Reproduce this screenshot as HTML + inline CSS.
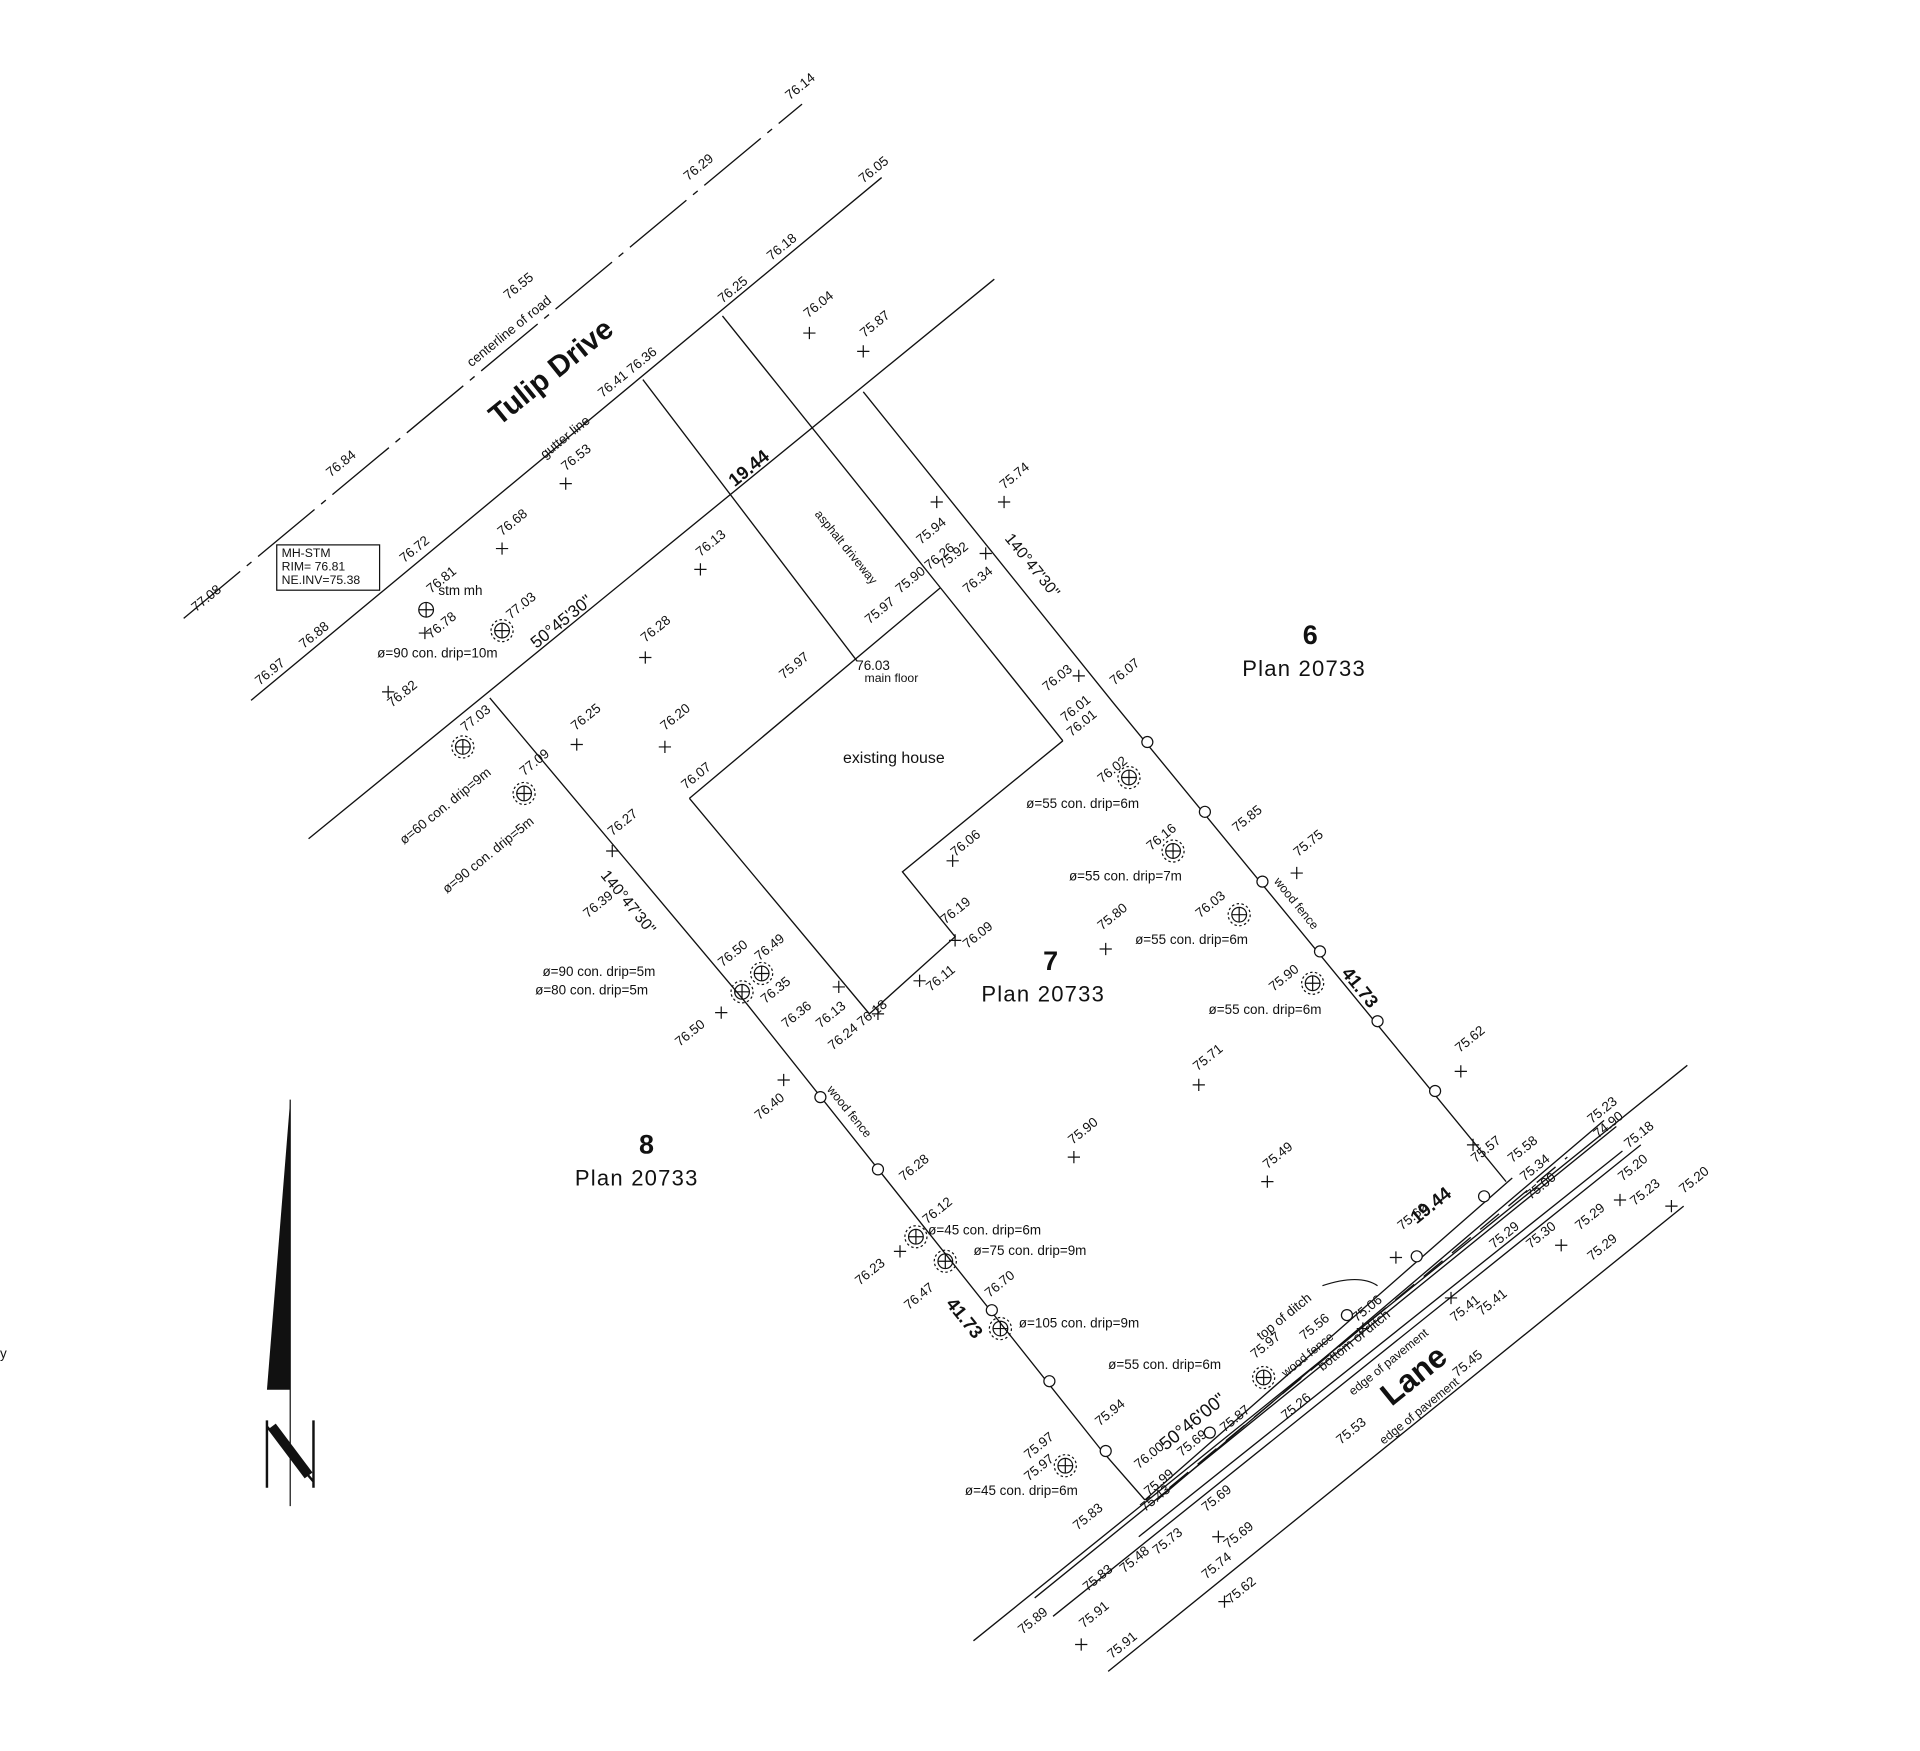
<!DOCTYPE html>
<html><head><meta charset="utf-8"><style>
html,body{margin:0;padding:0;background:#fff}
svg{display:block}
text{font-family:"Liberation Sans",sans-serif;fill:#111}
</style></head><body>
<svg width="1920" height="1751" viewBox="0 0 1568 1430" xmlns="http://www.w3.org/2000/svg">
<g stroke="#111" stroke-width="1.1" fill="none">
<line x1="150" y1="505" x2="655" y2="85" stroke-dasharray="60,7,5,7"/>
<line x1="205" y1="572" x2="720" y2="145"/>
<line x1="252" y1="685" x2="812" y2="228"/>
<polyline points="400,570 610,820 900,1185 935,1225"/>
<polyline points="705,320 910,575 1230,965"/>
<line x1="935" y1="1225" x2="1235" y2="962"/>
<line x1="525" y1="310" x2="700" y2="540"/>
<line x1="590" y1="258" x2="768" y2="480"/>
<line x1="768" y1="480" x2="868" y2="605"/>
<polyline points="563,652 768,480"/>
<polyline points="868,605 737,712 780,765 710,828 563,652"/>
<line x1="795" y1="1340" x2="1378" y2="870"/>
<line x1="905" y1="1365" x2="1375" y2="985"/>
<line x1="845" y1="1305" x2="1320" y2="920"/>
<line x1="860" y1="1320" x2="1340" y2="935"/>
<line x1="930" y1="1255" x2="1325" y2="940"/>
<line x1="945" y1="1225" x2="1310" y2="915"/>
<line x1="955" y1="1215" x2="1280" y2="945" stroke-dasharray="20,10"/>
</g>
<g stroke="#111" fill="#fff" stroke-width="1">
<circle cx="937" cy="606" r="4.5"/><circle cx="984" cy="663" r="4.5"/><circle cx="1031" cy="720" r="4.5"/><circle cx="1078" cy="777" r="4.5"/><circle cx="1125" cy="834" r="4.5"/><circle cx="1172" cy="891" r="4.5"/><circle cx="1212" cy="977" r="4.5"/><circle cx="1157" cy="1026" r="4.5"/><circle cx="1100" cy="1074" r="4.5"/><circle cx="988" cy="1170" r="4.5"/>
<circle cx="670" cy="896" r="4.5"/><circle cx="717" cy="955" r="4.5"/><circle cx="810" cy="1070" r="4.5"/><circle cx="857" cy="1128" r="4.5"/><circle cx="903" cy="1185" r="4.5"/>
</g>
<g stroke="#111" fill="none" stroke-width="1">
<g transform="translate(348,498)"><circle r="6"/><path d="M-6 0H6M0-6V6"/></g>
<g transform="translate(410,515)"><circle r="6"/><circle r="9" stroke-dasharray="2,2"/><path d="M-6 0H6M0-6V6"/></g>
<g transform="translate(378,610)"><circle r="6"/><circle r="9" stroke-dasharray="2,2"/><path d="M-6 0H6M0-6V6"/></g>
<g transform="translate(428,648)"><circle r="6"/><circle r="9" stroke-dasharray="2,2"/><path d="M-6 0H6M0-6V6"/></g>
<g transform="translate(922,635)"><circle r="6"/><circle r="9" stroke-dasharray="2,2"/><path d="M-6 0H6M0-6V6"/></g>
<g transform="translate(958,695)"><circle r="6"/><circle r="9" stroke-dasharray="2,2"/><path d="M-6 0H6M0-6V6"/></g>
<g transform="translate(1012,747)"><circle r="6"/><circle r="9" stroke-dasharray="2,2"/><path d="M-6 0H6M0-6V6"/></g>
<g transform="translate(1072,803)"><circle r="6"/><circle r="9" stroke-dasharray="2,2"/><path d="M-6 0H6M0-6V6"/></g>
<g transform="translate(606,810)"><circle r="6"/><circle r="9" stroke-dasharray="2,2"/><path d="M-6 0H6M0-6V6"/></g>
<g transform="translate(622,795)"><circle r="6"/><circle r="9" stroke-dasharray="2,2"/><path d="M-6 0H6M0-6V6"/></g>
<g transform="translate(748,1010)"><circle r="6"/><circle r="9" stroke-dasharray="2,2"/><path d="M-6 0H6M0-6V6"/></g>
<g transform="translate(772,1030)"><circle r="6"/><circle r="9" stroke-dasharray="2,2"/><path d="M-6 0H6M0-6V6"/></g>
<g transform="translate(817,1085)"><circle r="6"/><circle r="9" stroke-dasharray="2,2"/><path d="M-6 0H6M0-6V6"/></g>
<g transform="translate(870,1197)"><circle r="6"/><circle r="9" stroke-dasharray="2,2"/><path d="M-6 0H6M0-6V6"/></g>
<g transform="translate(1032,1125)"><circle r="6"/><circle r="9" stroke-dasharray="2,2"/><path d="M-6 0H6M0-6V6"/></g>
</g>
<g stroke="#111" stroke-width="1">
<path d="M656 272h10M661 267v10 M700 287h10M705 282v10 M457 395h10M462 390v10 M405 448h10M410 443v10 M567 465h10M572 460v10 M522 537h10M527 532v10 M466 608h10M471 603v10 M538 610h10M543 605v10 M312 565h10M317 560v10 M342 517h10M347 512v10 M495 695h10M500 690v10 M815 410h10M820 405v10 M760 410h10M765 405v10 M800 452h10M805 447v10 M876 552h10M881 547v10 M773 703h10M778 698v10 M775 768h10M780 763v10 M746 801h10M751 796v10 M898 775h10M903 770v10 M1054 713h10M1059 708v10 M974 886h10M979 881v10 M872 945h10M877 940v10 M1030 965h10M1035 960v10 M1188 875h10M1193 870v10 M1198 935h10M1203 930v10 M584 827h10M589 822v10 M635 882h10M640 877v10 M730 1022h10M735 1017v10 M1135 1027h10M1140 1022v10 M1270 1017h10M1275 1012v10 M1318 980h10M1323 975v10 M990 1255h10M995 1250v10 M995 1308h10M1000 1303v10 M878 1343h10M883 1338v10 M1108 1085h10M1113 1080v10 M1180 1060h10M1185 1055v10 M680 806h10M685 801v10 M712 828h10M717 823v10 M1360 985h10M1365 980v10"/>
</g>
<rect x="226" y="445" width="84" height="37" fill="#fff" stroke="#111"/>
<text x="230" y="455" font-size="10">MH-STM</text>
<text x="230" y="466" font-size="10">RIM=  76.81</text>
<text x="230" y="477" font-size="10">NE.INV=75.38</text>
<path d="M237 898 L218 1135 L237 1135 Z" fill="#111"/>
<line x1="237" y1="898" x2="237" y2="1230" stroke="#111"/>
<path d="M218 1160v55M256 1160v55M218 1165 L256 1210" stroke="#111" stroke-width="2" fill="none"/>
<path d="M222 1165 L252 1205" stroke="#111" stroke-width="8"/>
<text x="0" y="1109" font-size="11">y</text>
<text x="1070" y="526" font-size="22" font-weight="bold" text-anchor="middle">6</text>
<text x="1065" y="552" font-size="18" text-anchor="middle" letter-spacing="1">Plan  20733</text>
<text x="858" y="792" font-size="22" font-weight="bold" text-anchor="middle">7</text>
<text x="852" y="818" font-size="18" text-anchor="middle" letter-spacing="1">Plan  20733</text>
<text x="528" y="942" font-size="22" font-weight="bold" text-anchor="middle">8</text>
<text x="520" y="968" font-size="18" text-anchor="middle" letter-spacing="1">Plan  20733</text>
<text x="730" y="623" font-size="13" text-anchor="middle">existing house</text>
<text x="728" y="557" font-size="10" text-anchor="middle">main floor</text>
<text x="713" y="547" font-size="11" text-anchor="middle">76.03</text>
<text x="455" y="310" font-size="24" font-weight="bold" transform="rotate(-39 455 310)" text-anchor="middle">Tulip Drive</text>
<text x="1160" y="1130" font-size="26" font-weight="bold" transform="rotate(-39 1160 1130)" text-anchor="middle">Lane</text>
<g font-size="11">
<text transform="translate(160,500) rotate(-39)">77.08</text>
<text transform="translate(270,390) rotate(-39)">76.84</text>
<text transform="translate(385,300) rotate(-39)">centerline of road</text>
<text transform="translate(415,245) rotate(-39)">76.55</text>
<text transform="translate(562,148) rotate(-39)">76.29</text>
<text transform="translate(645,82) rotate(-39)">76.14</text>
<text transform="translate(212,560) rotate(-39)">76.97</text>
<text transform="translate(248,530) rotate(-39)">76.88</text>
<text transform="translate(330,460) rotate(-39)">76.72</text>
<text transform="translate(445,375) rotate(-39)">gutter line</text>
<text transform="translate(492,325) rotate(-39)">76.41 76.36</text>
<text transform="translate(590,248) rotate(-39)">76.25</text>
<text transform="translate(630,213) rotate(-39)">76.18</text>
<text transform="translate(705,150) rotate(-39)">76.05</text>
<text transform="translate(660,260) rotate(-39)">76.04</text>
<text transform="translate(706,276) rotate(-39)">75.87</text>
<text transform="translate(462,385) rotate(-39)">76.53</text>
<text transform="translate(410,438) rotate(-39)">76.68</text>
<text transform="translate(352,485) rotate(-39)">76.81</text>
<text transform="translate(358,486)">stm mh</text>
<text transform="translate(352,522) rotate(-39)">76.78</text>
<text transform="translate(417,506) rotate(-39)">77.03</text>
<text transform="translate(320,578) rotate(-39)">76.82</text>
<text x="308" y="537">ø=90 con. drip=10m</text>
<text transform="translate(600,398) rotate(-39)" font-size="15" font-weight="bold">19.44</text>
<text transform="translate(438,530) rotate(-39)" font-size="14">50°45'30"</text>
<text transform="translate(665,420) rotate(51)" font-size="10">asphalt driveway</text>
<text transform="translate(572,455) rotate(-39)">76.13</text>
<text transform="translate(527,525) rotate(-39)">76.28</text>
<text transform="translate(470,597) rotate(-39)">76.25</text>
<text transform="translate(543,597) rotate(-39)">76.20</text>
<text transform="translate(380,598) rotate(-39)">77.03</text>
<text transform="translate(428,634) rotate(-39)">77.09</text>
<text transform="translate(330,690) rotate(-39)">ø=60 con. drip=9m</text>
<text transform="translate(365,730) rotate(-39)">ø=90 con. drip=5m</text>
<text transform="translate(500,683) rotate(-39)">76.27</text>
<text transform="translate(490,715) rotate(51)" font-size="13">140°47'30"</text>
<text transform="translate(480,750) rotate(-39)">76.39</text>
<text transform="translate(560,645) rotate(-39)">76.07</text>
<text transform="translate(820,400) rotate(-39)">75.74</text>
<text transform="translate(752,445) rotate(-39)">75.94</text>
<text transform="translate(770,465) rotate(-39)">75.92</text>
<text transform="translate(735,485) rotate(-39)">75.90 76.26</text>
<text transform="translate(710,510) rotate(-39)">75.97</text>
<text transform="translate(790,485) rotate(-39)">76.34</text>
<text transform="translate(820,440) rotate(51)" font-size="13">140°47'30"</text>
<text transform="translate(640,555) rotate(-39)">75.97</text>
<text transform="translate(855,565) rotate(-39)">76.03</text>
<text transform="translate(910,560) rotate(-39)">76.07</text>
<text transform="translate(870,590) rotate(-39)">76.01</text>
<text transform="translate(875,602) rotate(-39)">76.01</text>
<text transform="translate(900,640) rotate(-39)">76.02</text>
<text x="838" y="660">ø=55 con. drip=6m</text>
<text transform="translate(940,695) rotate(-39)">76.16</text>
<text x="873" y="719">ø=55 con. drip=7m</text>
<text transform="translate(1010,680) rotate(-39)">75.85</text>
<text transform="translate(1060,700) rotate(-39)">75.75</text>
<text transform="translate(980,750) rotate(-39)">76.03</text>
<text x="927" y="771">ø=55 con. drip=6m</text>
<text transform="translate(1040,720) rotate(51)" font-size="10">wood fence</text>
<text transform="translate(1095,795) rotate(51)" font-size="15" font-weight="bold">41.73</text>
<text transform="translate(1040,810) rotate(-39)">75.90</text>
<text x="987" y="828">ø=55 con. drip=6m</text>
<text transform="translate(1192,860) rotate(-39)">75.62</text>
<text transform="translate(900,760) rotate(-39)">75.80</text>
<text transform="translate(978,875) rotate(-39)">75.71</text>
<text transform="translate(876,935) rotate(-39)">75.90</text>
<text transform="translate(1035,955) rotate(-39)">75.49</text>
<text transform="translate(780,700) rotate(-39)">76.06</text>
<text transform="translate(772,755) rotate(-39)">76.19</text>
<text transform="translate(790,775) rotate(-39)">76.09</text>
<text transform="translate(760,810) rotate(-39)">76.11</text>
<text transform="translate(590,790) rotate(-39)">76.50</text>
<text transform="translate(620,785) rotate(-39)">76.49</text>
<text transform="translate(625,820) rotate(-39)">76.35</text>
<text transform="translate(642,840) rotate(-39)">76.36</text>
<text transform="translate(670,840) rotate(-39)">76.13</text>
<text transform="translate(680,858) rotate(-39)">76.24 76.18</text>
<text x="443" y="797">ø=90 con. drip=5m</text>
<text x="437" y="812">ø=80 con. drip=5m</text>
<text transform="translate(555,855) rotate(-39)">76.50</text>
<text transform="translate(620,915) rotate(-39)">76.40</text>
<text transform="translate(675,890) rotate(51)" font-size="10">wood fence</text>
<text transform="translate(738,965) rotate(-39)">76.28</text>
<text transform="translate(757,1000) rotate(-39)">76.12</text>
<text x="758" y="1008">ø=45 con. drip=6m</text>
<text x="795" y="1025">ø=75 con. drip=9m</text>
<text transform="translate(702,1050) rotate(-39)">76.23</text>
<text transform="translate(742,1070) rotate(-39)">76.47</text>
<text transform="translate(772,1065) rotate(51)" font-size="15" font-weight="bold">41.73</text>
<text transform="translate(808,1060) rotate(-39)">76.70</text>
<text x="832" y="1084">ø=105 con. drip=9m</text>
<text x="905" y="1118">ø=55 con. drip=6m</text>
<text transform="translate(898,1165) rotate(-39)">75.94</text>
<text transform="translate(840,1192) rotate(-39)">75.97</text>
<text transform="translate(840,1210) rotate(-39)">75.97</text>
<text x="788" y="1221">ø=45 con. drip=6m</text>
<text transform="translate(880,1250) rotate(-39)">75.83</text>
<text transform="translate(835,1335) rotate(-39)">75.89</text>
<text transform="translate(888,1300) rotate(-39)">75.83</text>
<text transform="translate(885,1330) rotate(-39)">75.91</text>
<text transform="translate(908,1355) rotate(-39)">75.91</text>
<text transform="translate(918,1285) rotate(-39)">75.48</text>
<text transform="translate(945,1270) rotate(-39)">75.73</text>
<text transform="translate(935,1235) rotate(-39)">75.43</text>
<text transform="translate(985,1235) rotate(-39)">75.69</text>
<text transform="translate(985,1290) rotate(-39)">75.74</text>
<text transform="translate(1003,1265) rotate(-39)">75.69</text>
<text transform="translate(1005,1310) rotate(-39)">75.62</text>
<text transform="translate(930,1200) rotate(-39)">76.00</text>
<text transform="translate(952,1185) rotate(-39)" font-size="15">50°46'00"</text>
<text transform="translate(938,1222) rotate(-39)">75.99</text>
<text transform="translate(965,1190) rotate(-39)">75.69</text>
<text transform="translate(1000,1170) rotate(-39)">75.87</text>
<text transform="translate(1030,1095) rotate(-39)">top of ditch</text>
<text transform="translate(1025,1110) rotate(-39)">75.97</text>
<text transform="translate(1065,1095) rotate(-39)">75.56</text>
<text transform="translate(1050,1125) rotate(-39)" font-size="10">wood fence</text>
<text transform="translate(1050,1160) rotate(-39)">75.26</text>
<text transform="translate(1080,1120) rotate(-39)">bottom of ditch</text>
<text transform="translate(1108,1080) rotate(-39)">75.06</text>
<text transform="translate(1105,1140) rotate(-39)" font-size="10">edge of pavement</text>
<text transform="translate(1130,1180) rotate(-39)" font-size="10">edge of pavement</text>
<text transform="translate(1095,1180) rotate(-39)">75.53</text>
<text transform="translate(1190,1125) rotate(-39)">75.45</text>
<text transform="translate(1188,1080) rotate(-39)">75.41</text>
<text transform="translate(1210,1075) rotate(-39)">75.41</text>
<text transform="translate(1145,1005) rotate(-39)">75.62</text>
<text transform="translate(1157,1000) rotate(-39)" font-size="15" font-weight="bold">19.44</text>
<text transform="translate(1205,950) rotate(-39)">75.57</text>
<text transform="translate(1235,950) rotate(-39)">75.58</text>
<text transform="translate(1245,965) rotate(-39)">75.34</text>
<text transform="translate(1250,980) rotate(-39)">75.00</text>
<text transform="translate(1220,1020) rotate(-39)">75.29</text>
<text transform="translate(1250,1020) rotate(-39)">75.30</text>
<text transform="translate(1290,1005) rotate(-39)">75.29</text>
<text transform="translate(1300,1030) rotate(-39)">75.29</text>
<text transform="translate(1335,985) rotate(-39)">75.23</text>
<text transform="translate(1375,975) rotate(-39)">75.20</text>
<text transform="translate(1325,965) rotate(-39)">75.20</text>
<text transform="translate(1330,938) rotate(-39)">75.18</text>
<text transform="translate(1300,918) rotate(-39)">75.23</text>
<text transform="translate(1305,930) rotate(-39)">74.90</text>
</g>
<path d="M1080 1050 Q1110 1040 1125 1050" stroke="#111" fill="none"/>
</svg>
</body></html>
